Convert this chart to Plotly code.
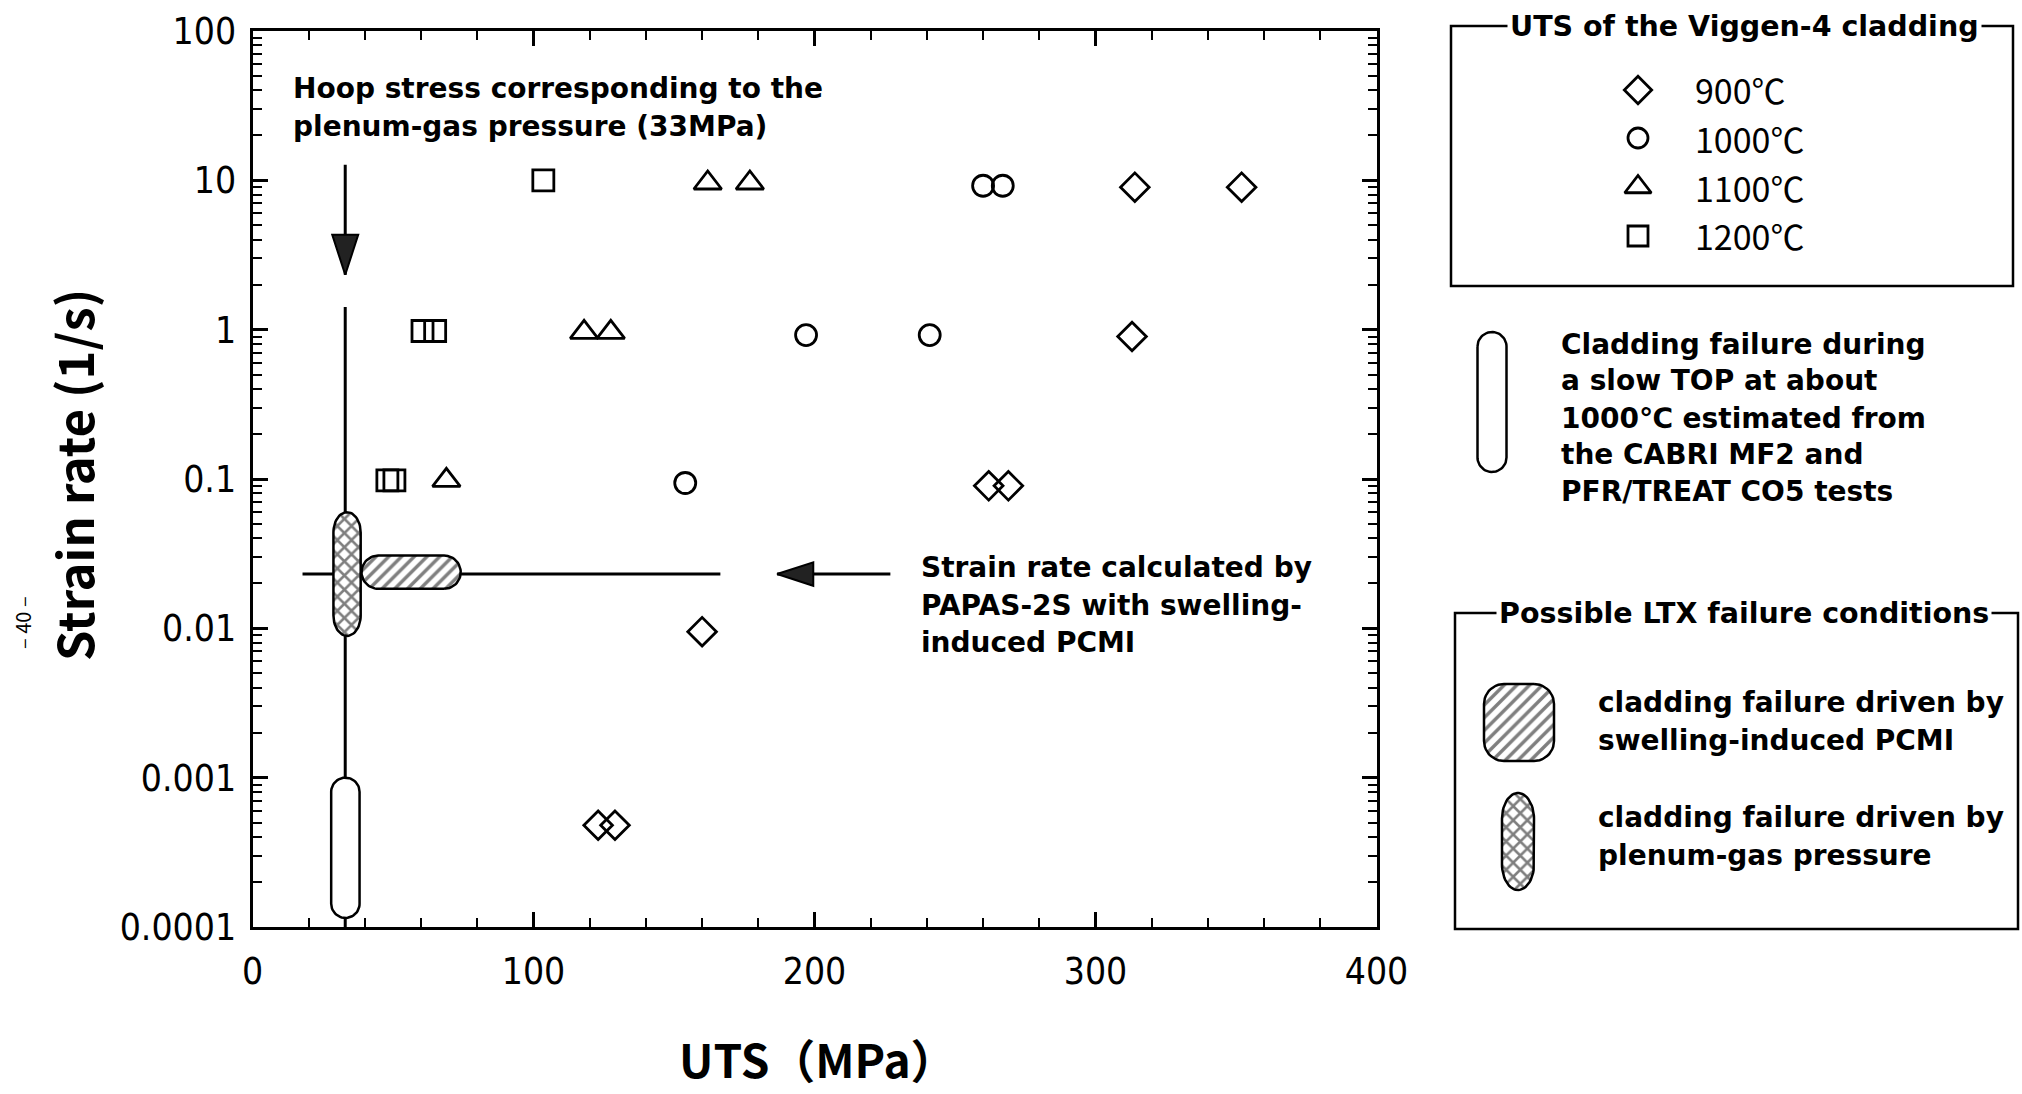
import numpy as np
import plotly.graph_objects as go

# ---- UTS of the Viggen-4 cladding (MPa) vs. strain rate (1/s) ----
uts_900 = [314, 352, 313, 262, 269, 160, 123, 129]
rate_900 = [9.0, 9.0, 0.90, 0.090, 0.090, 0.0095, 0.00048, 0.00048]

uts_1000 = [260, 267, 197, 241, 154]
rate_1000 = [9.2, 9.2, 0.92, 0.92, 0.094]

uts_1100 = [162, 177, 118, 127.5, 69]
rate_1100 = [9.6, 9.6, 0.96, 0.96, 0.098]

uts_1200 = [103.5, 60.5, 65, 48, 50.5]
rate_1200 = [10, 0.98, 0.98, 0.098, 0.098]

# hoop stress from plenum-gas pressure and its strain-rate span
hoop_stress = 33
hoop_rate_span = [1.42, 1e-4]
hoop_arrow_rate = [12.7, 2.33]          # tail, tip

# PAPAS-2S strain rate and its UTS span
papas_rate = 0.0231
papas_uts_span = [17.8, 166.5]
papas_arrow_uts = [227, 186.7]          # tail, tip

# failure regions: (UTS min, UTS max), (rate min, rate max)
plenum_region = ([28.8, 38.5], [0.0089, 0.060])
pcmi_region = ([38.8, 74.1], [0.0184, 0.0307])
slow_top_region = ([28.0, 38.1], [0.000115, 0.001])

x_ticks = [0, 100, 200, 300, 400]
y_ticks = [1e-4, 1e-3, 1e-2, 1e-1, 1, 10, 100]
y_tick_text = ["0.0001", "0.001", "0.01", "0.1", "1", "10", "100"]

legend_temps = ["900℃", "1000℃", "1100℃", "1200℃"]

# ---- page geometry (pixels) ----
W, H = 2022, 1094
PLOT_L, PLOT_R, PLOT_T, PLOT_B = 252.5, 1376.5, 31, 927
X_RANGE = [0, 400]
Y_RANGE = [-4, 2]  # log10

BODY_FONT = "DejaVu Sans, Noto Sans, sans-serif"
TITLE_FONT = "Noto Sans CJK JP, Noto Sans, sans-serif"
TICK_FONT = "Liberation Sans Narrow, DejaVu Sans Condensed, Liberation Sans, sans-serif"

def px(x):
    return x / W

def py(y):
    return 1 - y / H

# pixel scale of the data axes
sx = (PLOT_R - PLOT_L) / (X_RANGE[1] - X_RANGE[0])
sy = (PLOT_B - PLOT_T) / (Y_RANGE[1] - Y_RANGE[0])


def rounded_outline(xs, ys, cap=1.0, n=30):
    """Stadium-like outline of a region, round ends along its long side (data coords)."""
    X0, X1 = xs[0] * sx, xs[1] * sx
    V0, V1 = np.log10(ys[0]) * sy, np.log10(ys[1]) * sy
    w, h = X1 - X0, V1 - V0
    xc, vc = (X0 + X1) / 2, (V0 + V1) / 2
    pts = []
    if h >= w:
        r = w / 2
        e = min(r * cap, h / 2)
        top, bot = V1 - e, V0 + e
        for t in np.linspace(0, np.pi, n):
            pts.append((xc + r * np.cos(t), top + e * np.sin(t)))
        for t in np.linspace(np.pi, 2 * np.pi, n):
            pts.append((xc + r * np.cos(t), bot + e * np.sin(t)))
    else:
        r = h / 2
        e = min(r * cap, w / 2)
        right, left = X1 - e, X0 + e
        for t in np.linspace(-np.pi / 2, np.pi / 2, n):
            pts.append((right + e * np.cos(t), vc + r * np.sin(t)))
        for t in np.linspace(np.pi / 2, 3 * np.pi / 2, n):
            pts.append((left + e * np.cos(t), vc + r * np.sin(t)))
    pts.append(pts[0])
    xs_out = [p[0] / sx for p in pts]
    ys_out = [10 ** (p[1] / sy) for p in pts]
    return xs_out, ys_out


def rounded_box_px(x0, x1, y0, y1, rr, n=12):
    """Rounded rectangle outline in pixel space."""
    pts = []
    corners = [(x1 - rr, y0 + rr, -np.pi / 2, 0), (x1 - rr, y1 - rr, 0, np.pi / 2),
               (x0 + rr, y1 - rr, np.pi / 2, np.pi), (x0 + rr, y0 + rr, np.pi, 1.5 * np.pi)]
    for cx, cy, a0, a1 in corners:
        for t in np.linspace(a0, a1, n):
            pts.append((cx + rr * np.cos(t), cy + rr * np.sin(t)))
    pts.append(pts[0])
    return [p[0] for p in pts], [p[1] for p in pts]


def stadium_px(xc, y0, y1, w, cap=1.0, n=30):
    r = w / 2
    e = r * cap
    pts = []
    for t in np.linspace(np.pi, 2 * np.pi, n):
        pts.append((xc + r * np.cos(t), y0 + e + e * np.sin(t)))
    for t in np.linspace(0, np.pi, n):
        pts.append((xc + r * np.cos(t), y1 - e + e * np.sin(t)))
    pts.append(pts[0])
    return [p[0] for p in pts], [p[1] for p in pts]


LINE = dict(color="black", width=3)
CROSS = dict(shape="x", fgcolor="black", bgcolor="white", size=10, solidity=0.45)
HATCH = dict(shape="/", fgcolor="black", bgcolor="white", size=9, solidity=0.38)

fig = go.Figure()

# guide lines
fig.add_trace(go.Scatter(x=[hoop_stress, hoop_stress], y=hoop_rate_span, mode="lines",
                         line=LINE, hoverinfo="skip"))
fig.add_trace(go.Scatter(x=papas_uts_span, y=[papas_rate, papas_rate], mode="lines",
                         line=LINE, hoverinfo="skip"))

# arrows
fig.add_trace(go.Scatter(x=[hoop_stress, hoop_stress], y=hoop_arrow_rate, mode="lines",
                         line=LINE, hoverinfo="skip"))
fig.add_trace(go.Scatter(x=[hoop_stress], y=[hoop_arrow_rate[1]], mode="markers",
                         marker=dict(symbol="arrow", size=42, angle=180, color="#222",
                                     line=dict(color="black", width=2)), hoverinfo="skip"))
fig.add_trace(go.Scatter(x=papas_arrow_uts, y=[papas_rate, papas_rate], mode="lines",
                         line=LINE, hoverinfo="skip"))
fig.add_trace(go.Scatter(x=[papas_arrow_uts[1]], y=[papas_rate], mode="markers",
                         marker=dict(symbol="arrow", size=38, angle=270, color="#222",
                                     line=dict(color="black", width=2)), hoverinfo="skip"))

# failure regions
ox, oy = rounded_outline(*slow_top_region)
fig.add_trace(go.Scatter(x=ox, y=oy, mode="lines", fill="toself", fillcolor="white",
                         line=dict(color="black", width=2.5), hoverinfo="skip"))
ox, oy = rounded_outline(*plenum_region, cap=1.5)
fig.add_trace(go.Scatter(x=ox, y=oy, mode="lines", fill="toself", fillpattern=CROSS,
                         line=dict(color="black", width=2.5), hoverinfo="skip"))
ox, oy = rounded_outline(*pcmi_region)
fig.add_trace(go.Scatter(x=ox, y=oy, mode="lines", fill="toself", fillpattern=HATCH,
                         line=dict(color="black", width=2.5), hoverinfo="skip"))

# UTS data
MK = dict(color="black", line=dict(color="black", width=2.8))
fig.add_trace(go.Scatter(x=uts_900, y=rate_900, mode="markers",
                         marker=dict(symbol="diamond-open", size=22, **MK)))
fig.add_trace(go.Scatter(x=uts_1000, y=rate_1000, mode="markers",
                         marker=dict(symbol="circle-open", size=21, **MK)))
fig.add_trace(go.Scatter(x=uts_1100, y=rate_1100, mode="markers",
                         marker=dict(symbol="triangle-up-open", size=24, **MK)))
fig.add_trace(go.Scatter(x=uts_1200, y=rate_1200, mode="markers",
                         marker=dict(symbol="square-open", size=21, **MK)))

# ---- legend keys, drawn on a full-page pixel axis ----
KX = dict(xaxis="x2", yaxis="y2", hoverinfo="skip")
legend_marker_x = 1638
legend_rows_y = [90, 138, 187, 236]
for sym, size, ly in zip(["diamond-open", "circle-open", "triangle-up-open", "square-open"],
                         [21, 20, 23, 20], legend_rows_y):
    fig.add_trace(go.Scatter(x=[legend_marker_x], y=[ly], mode="markers",
                             marker=dict(symbol=sym, size=size, **MK), **KX))

kx, ky = stadium_px(1492, 332, 472, 29)
fig.add_trace(go.Scatter(x=kx, y=ky, mode="lines", fill="toself", fillcolor="white",
                         line=dict(color="black", width=2.5), **KX))
kx, ky = rounded_box_px(1484, 1554, 684, 761, 20)
fig.add_trace(go.Scatter(x=kx, y=ky, mode="lines", fill="toself", fillpattern=HATCH,
                         line=dict(color="black", width=2.5), **KX))
kx, ky = stadium_px(1518, 793, 890, 32, cap=1.6)
fig.add_trace(go.Scatter(x=kx, y=ky, mode="lines", fill="toself", fillpattern=CROSS,
                         line=dict(color="black", width=2.5), **KX))

# ---- text ----
ann = []

def text(x, y, s, size=28, xanchor="left", yanchor="middle", angle=0, weight="bold",
         font=BODY_FONT, **kw):
    ann.append(dict(x=px(x), y=py(y), xref="paper", yref="paper", text=s, showarrow=False,
                    xanchor=xanchor, yanchor=yanchor, align="left", textangle=angle,
                    font=dict(family=font, size=size, color="black", weight=weight), **kw))

def lines(x, ys, rows, size=28):
    for y, s in zip(ys, rows):
        text(x, y, s, size=size)

lines(291, [88, 127], ["Hoop stress corresponding to the", "plenum-gas pressure (33MPa)"])
lines(919, [567, 605, 642], ["Strain rate calculated by", "PAPAS-2S with swelling-",
                             "induced PCMI"])

text(73, 475, "Strain rate (1/s)", size=49, xanchor="center", angle=-90, font=TITLE_FONT,
     borderpad=0)
text(818, 1058, "UTS（MPa）", size=46, xanchor="center", font=TITLE_FONT, borderpad=0)
text(22, 623, "– 40 –", size=20, xanchor="center", angle=-90, weight="normal",
     font=TITLE_FONT)

# legend boxes
shapes = [
    dict(type="rect", xref="paper", yref="paper", x0=px(1451), x1=px(2013), y0=py(26), y1=py(286),
         line=dict(color="black", width=2.5)),
    dict(type="rect", xref="paper", yref="paper", x0=px(1455), x1=px(2018), y0=py(613), y1=py(929),
         line=dict(color="black", width=2.5)),
]
text(1507, 26, "UTS of the Viggen-4 cladding", size=28.5, bgcolor="white", borderpad=2)
text(1496, 613, "Possible LTX failure conditions", size=28.5, bgcolor="white", borderpad=2)
for lbl, ly in zip(legend_temps, legend_rows_y):
    text(1693, ly, lbl, size=34, weight="normal", font=TITLE_FONT)
lines(1559, [344, 381, 418, 455, 492],
      ["Cladding failure during", "a slow TOP at about", "1000℃ estimated from",
       "the CABRI MF2 and", "PFR/TREAT CO5 tests"])
lines(1596, [702, 740], ["cladding failure driven by", "swelling-induced PCMI"])
lines(1596, [817, 855], ["cladding failure driven by", "plenum-gas pressure"])

axis_common = dict(showline=True, linecolor="black", linewidth=3, mirror="allticks",
                   ticks="inside", ticklen=15, tickwidth=2.5, tickcolor="black",
                   showgrid=False, zeroline=False, automargin=False,
                   tickfont=dict(family=TICK_FONT, size=37, color="black"))

fig.update_layout(
    width=W, height=H, margin=dict(l=0, r=0, t=0, b=0, pad=0),
    paper_bgcolor="white", plot_bgcolor="rgba(0,0,0,0)",
    showlegend=False, annotations=ann, shapes=shapes,
    xaxis=dict(domain=[px(PLOT_L), px(PLOT_R)], range=X_RANGE, tickvals=x_ticks,
               ticklabelstandoff=10,
               minor=dict(dtick=20, ticks="inside", ticklen=9, tickwidth=2, tickcolor="black"),
               **axis_common),
    yaxis=dict(domain=[py(PLOT_B), py(PLOT_T)], type="log", range=Y_RANGE,
               tickvals=y_ticks, ticktext=y_tick_text, ticklabelstandoff=6,
               minor=dict(dtick="D1", ticks="inside", ticklen=9, tickwidth=2, tickcolor="black"),
               **axis_common),
    xaxis2=dict(domain=[0, 1], range=[0, W], visible=False, anchor="y2", automargin=False),
    yaxis2=dict(domain=[0, 1], range=[H, 0], visible=False, anchor="x2", automargin=False),
)

fig.write_html("out.html")
